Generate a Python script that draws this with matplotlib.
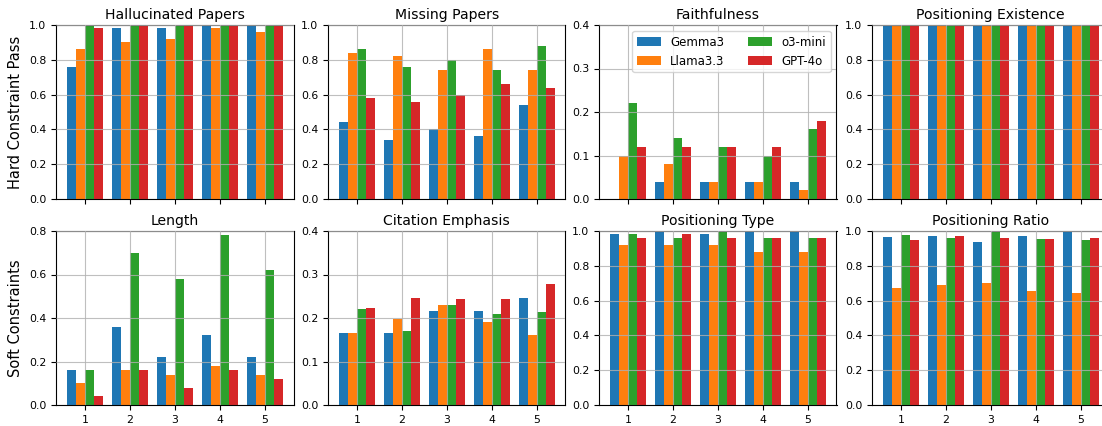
import matplotlib
matplotlib.use("Agg")
import matplotlib.pyplot as plt
import numpy as np

models = ["Gemma3", "Llama3.3", "o3-mini", "GPT-4o"]
colors = ["#1f77b4", "#ff7f0e", "#2ca02c", "#d62728"]
groups = [1, 2, 3, 4, 5]

# values per metric: rows = models (Gemma3, Llama3.3, o3-mini, GPT-4o), cols = groups 1..5
hallucinated = [[0.76, 0.98, 0.98, 1.00, 1.00],
                [0.86, 0.90, 0.92, 0.98, 0.96],
                [1.00, 1.00, 1.00, 1.00, 1.00],
                [0.98, 1.00, 1.00, 1.00, 1.00]]
missing = [[0.44, 0.34, 0.40, 0.36, 0.54],
           [0.84, 0.82, 0.74, 0.86, 0.74],
           [0.86, 0.76, 0.80, 0.74, 0.88],
           [0.58, 0.56, 0.60, 0.66, 0.64]]
faithfulness = [[0.00, 0.04, 0.04, 0.04, 0.04],
                [0.10, 0.08, 0.04, 0.04, 0.02],
                [0.22, 0.14, 0.12, 0.10, 0.16],
                [0.12, 0.12, 0.12, 0.12, 0.18]]
pos_existence = [[1.0, 1.0, 1.0, 1.0, 1.0],
                 [1.0, 1.0, 1.0, 1.0, 1.0],
                 [1.0, 1.0, 1.0, 1.0, 1.0],
                 [1.0, 1.0, 1.0, 1.0, 1.0]]
length = [[0.16, 0.36, 0.22, 0.32, 0.22],
          [0.10, 0.16, 0.14, 0.18, 0.14],
          [0.16, 0.70, 0.58, 0.78, 0.62],
          [0.04, 0.16, 0.08, 0.16, 0.12]]
citation = [[0.165, 0.165, 0.215, 0.217, 0.247],
            [0.165, 0.197, 0.230, 0.190, 0.162],
            [0.220, 0.171, 0.230, 0.210, 0.213],
            [0.224, 0.245, 0.243, 0.243, 0.279]]
pos_type = [[0.98, 1.00, 0.98, 1.00, 1.00],
            [0.92, 0.92, 0.92, 0.88, 0.88],
            [0.98, 0.96, 1.00, 0.96, 0.96],
            [0.96, 0.98, 0.96, 0.96, 0.96]]
pos_ratio = [[0.963, 0.969, 0.937, 0.969, 1.000],
             [0.670, 0.687, 0.699, 0.658, 0.641],
             [0.975, 0.958, 1.000, 0.952, 0.946],
             [0.948, 0.969, 0.958, 0.952, 0.958]]

titles = ["Hallucinated Papers", "Missing Papers", "Faithfulness", "Positioning Existence",
          "Length", "Citation Emphasis", "Positioning Type", "Positioning Ratio"]
data = [hallucinated, missing, faithfulness, pos_existence,
        length, citation, pos_type, pos_ratio]
ylims = [1.0, 1.0, 0.4, 1.0, 0.8, 0.4, 1.0, 1.0]
ysteps = [0.2, 0.2, 0.1, 0.2, 0.2, 0.1, 0.2, 0.2]

W, H = 1102, 426
fig = plt.figure(figsize=(W / 100, H / 100), dpi=100)

col_left = [56, 328, 599, 872]
ax_w = 237.5
row_top = [25, 231]
ax_h = 174

x = np.array(groups, dtype=float)
bw = 0.2
axes = []
for i in range(8):
    r, c = divmod(i, 4)
    left = col_left[c] / W
    bottom = (H - row_top[r] - ax_h) / H
    ax = fig.add_axes([left, bottom, ax_w / W, ax_h / H])
    axes.append(ax)
    for k, m in enumerate(models):
        ax.bar(x + (k - 1.5) * bw, data[i][k], width=bw, color=colors[k], label=m)
    ax.set_ylim(0, ylims[i])
    ax.set_yticks(np.round(np.arange(0, ylims[i] + 1e-9, ysteps[i]), 2))
    ax.set_xticks(groups)
    if r == 0:
        ax.set_xticklabels([])
    ax.set_axisbelow(False)
    ax.grid(True, color="#b0b0b0", linewidth=0.8, alpha=0.8)
    ax.set_title(titles[i], fontsize=10.1, pad=4.5)
    ax.tick_params(labelsize=7.8, length=3.5)

axes[0].set_ylabel("Hard Constraint Pass", fontsize=10.5)
axes[4].set_ylabel("Soft Constraints", fontsize=10.5)
axes[2].legend(ncol=2, loc="upper right", fontsize=8.5, framealpha=0.8)

fig.savefig("out.png", dpi=100)
